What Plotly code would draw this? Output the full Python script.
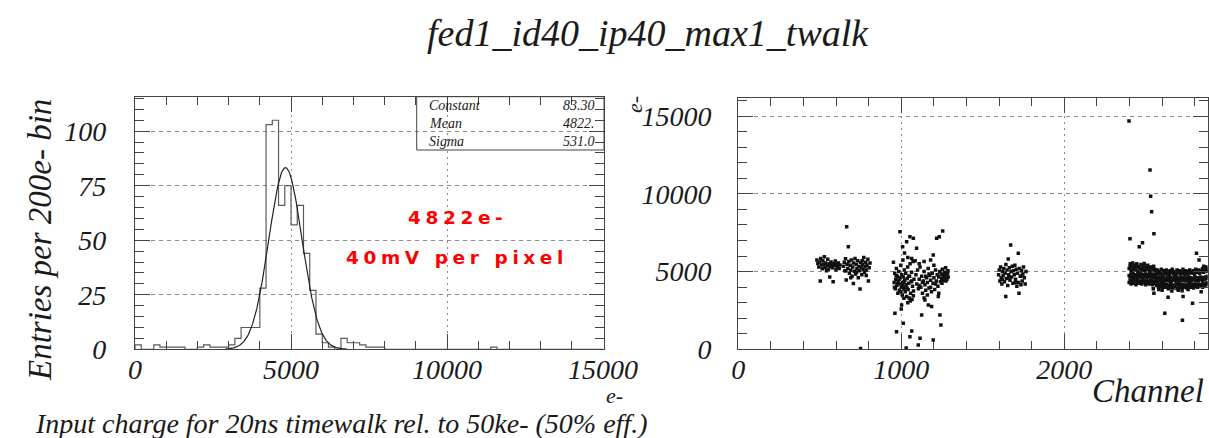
import math
import plotly.graph_objects as go

W, H = 1209, 438

# ---------------- data ----------------
TITLE = "fed1_id40_ip40_max1_twalk"
BIN_WIDTH = 200
# entries per 200e- bin, bins starting at 0 e-
hist_counts = [2, 0, 0, 2, 1, 1, 1, 1, 0, 0,
               1, 2, 1, 1, 1, 2, 5, 10, 10, 10,
               28, 103, 105, 66, 75, 57, 66, 44, 27, 7,
               3, 1, 0, 5, 3, 3, 2, 1, 1, 1,
               0, 0, 0, 0, 0, 0, 0, 0, 0, 0,
               0, 0, 0, 0, 0, 0, 0, 1, 0, 0,
               0, 0, 0, 0, 0, 0, 0, 0, 0, 0,
               0, 0, 0, 0, 0]
FIT_CONSTANT = 83.30
FIT_MEAN = 4822.0
FIT_SIGMA = 531.0
FIT_RANGE = (2900, 6800)
stats_labels = ["Constant", "Mean", "Sigma"]
stats_values = ["83.30", "4822.", "531.0"]
red_lines = ["4822e-", "40mV per pixel"]

left_xticks = [0, 5000, 10000, 15000]
left_yticks = [0, 25, 50, 75, 100]
right_xticks = [0, 1000, 2000]
right_yticks = [0, 5000, 10000, 15000]

# threshold (e-) per channel
cluster1 = [(482, 5750), (488, 5520), (494, 5300), (499, 5610), (503, 4400), (506, 5850), (511, 5420),
            (515, 5180), (519, 5700), (524, 5480), (528, 5950), (532, 5260), (536, 5560), (541, 5050),
            (545, 5380), (549, 5800), (553, 5150), (557, 5500), (561, 4650), (565, 5330), (569, 5620),
            (573, 5430), (578, 5250), (582, 4350), (586, 5520), (590, 5380), (595, 5680), (599, 5120),
            (604, 5460), (609, 5300), (614, 5560), (619, 5200), (624, 5420),
            (645, 5350), (650, 5600), (654, 5050), (658, 5820), (662, 4460), (665, 7890), (667, 5480),
            (671, 5200), (675, 6600), (678, 5650), (682, 4900), (686, 5400), (690, 5100), (694, 5750),
            (698, 4700), (702, 5300), (706, 4240), (708, 5550), (712, 5020), (716, 5850), (720, 4850),
            (724, 5450), (728, 5180), (732, 5700), (736, 4600), (740, 5320), (744, 5050), (747, 3880),
            (750, 5580), (754, 5260), (758, 4800), (762, 5460), (766, 5150), (770, 5900), (774, 4950),
            (778, 5350), (782, 5600), (786, 5100), (790, 5400), (795, 5800), (798, 4395), (803, 5250),
            (808, 5550), (660, 5050), (690, 4600), (725, 4950), (760, 5700), (785, 4750), (750, 50)]
cluster2 = [(952, 5600), (956, 4300), (960, 4900), (963, 3900), (966, 4500), (970, 5200), (973, 4100),
            (976, 4700), (979, 3600), (982, 4400), (985, 5000), (988, 3800), (991, 4600), (994, 4200),
            (997, 5400), (1000, 4000), (1003, 4800), (1006, 3500), (1009, 4300), (1012, 4650), (1015, 3900),
            (1018, 5100), (1021, 4450), (1024, 3700), (1027, 4900), (1030, 4150), (1033, 3400), (1036, 4550),
            (1039, 5300), (1042, 3850), (1045, 4250), (1048, 3300), (1051, 4700), (1054, 5500), (1057, 3600),
            (1060, 4350), (1063, 4950), (1066, 3200), (1069, 4050), (1072, 5650), (1075, 3750), (1078, 4500),
            (958, 4000), (968, 4750), (978, 4250), (987, 4500), (998, 3700), (1008, 4100), (1017, 4350),
            (1026, 4000), (1035, 3950), (1046, 4700), (1055, 3100), (1064, 4400), (1074, 3450),
            (992, 7568), (1008, 6600), (1033, 6924), (1053, 7245), (1074, 7138), (1094, 6495), (1064, 5850),
            (1217, 7138), (1233, 7245), (1254, 7610), (1196, 6066), (1020, 6200), (1040, 5900), (1085, 5700),
            (1110, 5500), (1140, 5650), (1180, 5750), (1010, 5750),
            (961, 2317), (1012, 1673), (971, 1137), (1064, 1180), (1053, 815), (1115, 708), (1104, 279),
            (1196, 600), (1237, 2210), (1243, 1566), (1125, 2210), (1166, 2855), (1186, 2750), (1145, 3180),
            (1227, 3395), (1002, 2855), (1016, 3290), (1000, 2600), (1040, 3000), (1030, 80),
            (1090, 4800), (1095, 4200), (1100, 5100), (1105, 3900), (1110, 4500), (1115, 5300), (1120, 4000),
            (1125, 4700), (1130, 3600), (1135, 4400), (1140, 5000), (1145, 4150), (1150, 3800), (1155, 4600),
            (1160, 4300), (1165, 5200), (1170, 3950), (1175, 4750), (1180, 4450), (1185, 3700), (1190, 4900),
            (1195, 4250), (1200, 4600), (1205, 3850), (1210, 5100), (1215, 4400), (1220, 4800), (1225, 4050),
            (1230, 4650), (1235, 5000), (1240, 4350), (1244, 4850), (1248, 4550), (1252, 5150), (1256, 4700),
            (1260, 4450), (1264, 4950), (1268, 4600), (1272, 5250), (1276, 4750), (1280, 4500), (1284, 4900),
            (1288, 4650), (1250, 4250), (1262, 4800), (1274, 4400), (1286, 5050), (1200, 5400), (1170, 4850),
            (1150, 4700), (1130, 4300), (1110, 4100), (1180, 4000), (1210, 4200), (1230, 3600), (1160, 3500),
            (1140, 3300)]
cluster3 = [(1597, 4800), (1601, 5100), (1605, 4400), (1609, 5300), (1613, 4600), (1617, 4200), (1621, 5000),
            (1625, 4750), (1629, 5200), (1633, 4350), (1637, 4900), (1641, 3390), (1642, 5450), (1645, 4550),
            (1649, 5100), (1653, 4100), (1656, 5807), (1659, 4800), (1663, 5250), (1667, 4450), (1671, 6712),
            (1673, 5000), (1677, 4650), (1681, 5350), (1685, 4250), (1689, 5050), (1693, 4800), (1697, 5400),
            (1701, 4500), (1705, 5150), (1709, 4050), (1713, 4900), (1718, 6175), (1720, 4300), (1722, 3610),
            (1726, 5200), (1730, 4700), (1734, 4150), (1738, 5050), (1742, 4400), (1746, 4850), (1750, 5300),
            (1755, 4600), (1760, 4200), (1765, 5000), (1620, 4500), (1660, 4600), (1700, 4300), (1740, 4750)]
band_ch = [2398, 2404, 2410, 2416, 2422, 2428, 2434, 2440, 2446, 2452, 2458, 2464, 2470, 2476,
           2482, 2488, 2494, 2500, 2506, 2512, 2518, 2524, 2530, 2536, 2542, 2548, 2554, 2560,
           2566, 2572, 2578, 2584, 2590, 2596, 2602, 2608, 2614, 2620, 2626, 2632, 2638, 2644,
           2650, 2656, 2662, 2668, 2674, 2680, 2686, 2692, 2698, 2704, 2710, 2716, 2722, 2728,
           2734, 2740, 2746, 2752, 2758, 2764, 2770, 2776, 2782, 2788, 2794, 2800, 2806, 2812,
           2818, 2824, 2830, 2836, 2842, 2848, 2854, 2860, 2866, 2872, 2878]
band_hi = [5200, 5350, 5050, 5300, 5150, 5400, 5250, 5100, 5350, 5000, 5300, 5200, 5450, 5100,
           5250, 5350, 5050, 5300, 5150, 5400, 5200, 5000, 5300, 5250, 5100, 5350, 5150, 5050,
           4950, 5100, 4850, 5000, 4900, 5150, 4800, 5050, 4950, 4850, 5100, 4900, 5000, 4800,
           5050, 4950, 5150, 4850, 5000, 4900, 4800, 5100, 4950, 5050, 4850, 5000, 4900, 5150,
           4950, 4800, 5050, 4900, 5000, 4850, 5100, 4950, 5000, 4900, 5050, 4850, 5150, 5000,
           4950, 5100, 4900, 5050, 5000, 5200, 4950, 5100, 5050, 5150, 5000]
band_mid = [4750, 4650, 4850, 4700, 4900, 4600, 4800, 4700, 4550, 4850, 4650, 4750, 4900, 4600,
            4800, 4700, 4650, 4850, 4750, 4600, 4800, 4900, 4650, 4750, 4850, 4600, 4700, 4800,
            4500, 4600, 4400, 4550, 4650, 4450, 4500, 4600, 4350, 4550, 4450, 4650, 4400, 4500,
            4600, 4350, 4550, 4450, 4650, 4500, 4400, 4600, 4500, 4350, 4550, 4650, 4450, 4500,
            4600, 4400, 4550, 4450, 4650, 4500, 4350, 4600, 4450, 4550, 4500, 4650, 4400, 4550,
            4600, 4450, 4500, 4650, 4550, 4400, 4600, 4500, 4650, 4550, 4700]
band_lo = [4300, 4450, 4200, 4350, 4500, 4250, 4400, 4150, 4350, 4450, 4250, 4300, 4400, 4200,
           4350, 4450, 4300, 4150, 4400, 4250, 4350, 4200, 4450, 4300, 4150, 4400, 4250, 4350,
           4100, 4200, 4000, 4150, 4050, 4250, 3950, 4100, 4200, 4000, 4150, 4050, 3900, 4100,
           4200, 4000, 4150, 3950, 4100, 4050, 4200, 3900, 4150, 4000, 4100, 4200, 3950, 4050,
           4150, 4000, 4100, 3950, 4200, 4050, 4150, 4000, 4100, 4200, 3950, 4050, 4150, 4100,
           4000, 4200, 4050, 4150, 4100, 4000, 4200, 4100, 4250, 4150, 4300]
cluster4_extra = [(2397, 14691), (2526, 11538), (2530, 9853), (2536, 8854), (2550, 7434), (2403, 7112),
                  (2460, 6603), (2480, 6860), (2811, 6175), (2827, 5743), (2617, 2317), (2725, 1866),
                  (2787, 2960), (2729, 3395), (2637, 3352), (2550, 3610), (2546, 3888), (2723, 3760),
                  (2405, 5500), (2420, 5550), (2445, 5500), (2490, 5520), (2580, 3850), (2600, 3800),
                  (2660, 3750), (2700, 3800), (2760, 3850), (2840, 3700), (2870, 5300), (2856, 5350)]

# ---------------- helpers ----------------
def fx(px):
    return px / W


def fy(py):
    return 1 - py / H


SERIF = "Liberation Serif, Times New Roman, serif"
INK = "#1a1a1a"
AXC = "#444444"
GRIDC = "#8a8a8a"

fig = go.Figure()

# histogram outline
edges = [i * BIN_WIDTH for i in range(len(hist_counts) + 1)]
hx = [0] + edges
hy = [0] + hist_counts + [hist_counts[-1]]
fig.add_trace(go.Scatter(x=hx, y=hy, mode="lines", line=dict(color="#5a5a5a", width=1.2, shape="hv"),
                         xaxis="x", yaxis="y", showlegend=False, hoverinfo="skip"))

# gaussian fit (from the fit parameters shown in the stats box)
fit_x = [FIT_RANGE[0] + k * (FIT_RANGE[1] - FIT_RANGE[0]) / 300 for k in range(301)]
fit_y = [FIT_CONSTANT * math.exp(-0.5 * ((v - FIT_MEAN) / FIT_SIGMA) ** 2) for v in fit_x]
fig.add_trace(go.Scatter(x=fit_x, y=fit_y, mode="lines", line=dict(color="#222222", width=1.2),
                         xaxis="x", yaxis="y", showlegend=False, hoverinfo="skip"))

# scatter of thresholds
pts = cluster1 + cluster2 + cluster3 + cluster4_extra
sx = [p[0] for p in pts]
sy = [p[1] for p in pts]
for row in (band_hi, band_mid, band_lo):
    for c, v in zip(band_ch, row):
        sx.append(c)
        sy.append(v)
fig.add_trace(go.Scatter(x=sx, y=sy, mode="markers",
                         marker=dict(symbol="square", size=3.5, color="#111111", line=dict(width=0)),
                         xaxis="x2", yaxis="y2", showlegend=False, hoverinfo="skip"))

common = dict(showline=True, mirror="allticks", linecolor=AXC, linewidth=1.2, ticks="inside",
              tickcolor=AXC, tickwidth=1, ticklen=15, zeroline=False, showgrid=True,
              gridcolor=GRIDC, gridwidth=1, tickformat="d", automargin=False,
              tickfont=dict(family=SERIF, size=28, color=INK, style="italic"))

fig.update_layout(
    width=W, height=H, margin=dict(l=0, r=0, t=0, b=0, autoexpand=False),
    paper_bgcolor="white", plot_bgcolor="white",
    xaxis=dict(domain=[fx(135), fx(604)], range=[0, 15030], tickvals=left_xticks, anchor="y",
               griddash="2px,4px", ticklabelstandoff=-5,
               minor=dict(ticks="inside", ticklen=8, dtick=1000, tickcolor=AXC, showgrid=False), **common),
    yaxis=dict(domain=[fy(349.3), fy(96.7)], range=[0, 115.8], tickvals=left_yticks, anchor="x",
               griddash="4px,4px", ticklabelstandoff=22,
               minor=dict(ticks="inside", ticklen=9, dtick=5, tickcolor=AXC, showgrid=False), **common),
    xaxis2=dict(domain=[fx(738.3), fx(1207.7)], range=[0, 2880], tickvals=right_xticks, anchor="y2",
                griddash="2px,4px", ticklabelstandoff=-5,
                minor=dict(ticks="inside", ticklen=8, dtick=200, tickcolor=AXC, showgrid=False), **common),
    yaxis2=dict(domain=[fy(349.3), fy(98.3)], range=[0, 16150], tickvals=right_yticks, anchor="x2",
                griddash="4px,4px", ticklabelstandoff=20,
                minor=dict(ticks="inside", ticklen=9, dtick=1000, tickcolor=AXC, showgrid=False), **common),
)

ann = []


def text(s, x, y, size, xa="center", ya="middle", angle=0, color=INK, family=SERIF, style="italic",
         weight="normal"):
    ann.append(dict(text=s, x=fx(x), y=fy(y), xref="paper", yref="paper", xanchor=xa, yanchor=ya,
                    textangle=angle, showarrow=False,
                    font=dict(family=family, size=size, color=color, style=style, weight=weight)))


text(TITLE, 648, 33, 38)
text("Entries per 200e- bin", 40, 240, 33, angle=-90)
text("e-", 614, 395, 22)
text("Input charge for 20ns timewalk rel. to 50ke- (50% eff.)", 33, 423, 28, xa="left")
text("Channel", 1206, 391, 33, xa="right")
text("e-", 634, 104, 22, angle=-90)

# stats box
stat_rows = [105.7, 123.5, 141.5]
for lab, val, yy in zip(stats_labels, stats_values, stat_rows):
    text(lab, 426.7, yy, 14, xa="left")
    text(val, 596.7, yy, 14, xa="right")
fig.add_shape(type="rect", xref="paper", yref="paper", x0=fx(416.7), x1=fx(604), y0=fy(150), y1=fy(96.7),
              line=dict(color=AXC, width=1), fillcolor="rgba(0,0,0,0)")

# red annotation (wide letter spacing as in the original)
RED_FONT = "DejaVu Sans, Liberation Sans, sans-serif"
for s, yy in zip(red_lines, [218, 257]):
    text('<span style="letter-spacing:4.6px">' + s + '</span>', 457, yy, 18.5, color="#ff0000",
         family=RED_FONT, style="normal", weight="bold")

fig.update_layout(annotations=ann)
fig.write_html("out.html", config={"displayModeBar": False},
               post_script="document.body.style.margin='0px';")
